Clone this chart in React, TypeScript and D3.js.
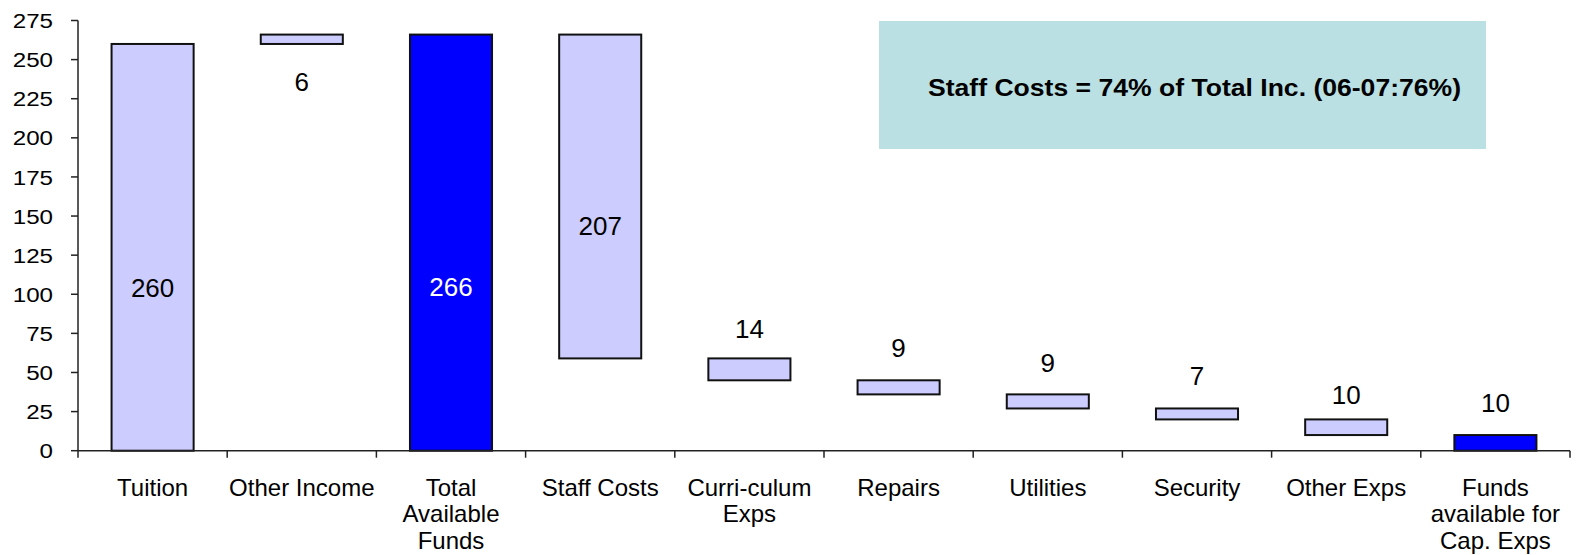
import React, { useEffect, useRef } from "react";
import * as d3 from "d3";

// categories (multi-line labels split with "\n")
const categories = [
  "Tuition",
  "Other Income",
  "Total\nAvailable\nFunds",
  "Staff Costs",
  "Curri-culum\nExps",
  "Repairs",
  "Utilities",
  "Security",
  "Other Exps",
  "Funds\navailable for\nCap. Exps",
];
// waterfall: floating base and visible value
const bases = [0, 260, 0, 59, 45, 36, 27, 20, 10, 0];
const values = [260, 6, 266, 207, 14, 9, 9, 7, 10, 10];
const isTotal = [false, false, true, false, false, false, false, false, false, true];
// where each data label sits (in data units)
const labelAt = [104, 236, 105, 144, 78, 66, 56, 48, 36, 31];
const yTicks = [0, 25, 50, 75, 100, 125, 150, 175, 200, 225, 250, 275];
const note = "Staff Costs = 74% of Total Inc. (06-07:76%)";

const W = 1578;
const H = 555;

function drawChart(svgEl: SVGSVGElement) {
  const svg = d3.select(svgEl);
  svg.selectAll("*").remove();
  const font = "'Liberation Sans', Arial, sans-serif";

  const x = d3
    .scaleBand<number>()
    .domain(d3.range(categories.length))
    .range([78, 1570])
    .paddingInner(0.45)
    .paddingOuter(0.225);
  const step = x.step();
  const x0 = 78;

  const y = d3.scaleLinear().domain([0, 275]).range([450.7, 20.5]);

  // annotation box
  svg
    .append("rect")
    .attr("x", 879)
    .attr("y", 21)
    .attr("width", 607)
    .attr("height", 128)
    .attr("fill", "#bbe0e3");
  svg
    .append("text")
    .attr("x", 928)
    .attr("y", 96)
    .attr("textLength", 533)
    .attr("lengthAdjust", "spacingAndGlyphs")
    .style("font-family", font)
    .style("font-size", "24px")
    .style("font-weight", "bold")
    .style("fill", "#000")
    .text(note);

  // y axis
  const yAxis = svg.append("g").attr("transform", `translate(${x0},0)`);
  yAxis
    .append("line")
    .attr("y1", y(275))
    .attr("y2", y(0))
    .attr("stroke", "#222")
    .attr("stroke-width", 1.5);
  yTicks.forEach((t) => {
    yAxis
      .append("line")
      .attr("x1", -7)
      .attr("x2", 0)
      .attr("y1", y(t))
      .attr("y2", y(t))
      .attr("stroke", "#222")
      .attr("stroke-width", 1.5);
    // tick labels are a bit wider than tall in the original
    yAxis
      .append("text")
      .attr("transform", `translate(-25,${y(t)}) scale(1.15,1)`)
      .attr("dy", "0.36em")
      .attr("text-anchor", "end")
      .style("font-family", font)
      .style("font-size", "21px")
      .style("fill", "#000")
      .text(t);
  });

  // bars
  categories.forEach((_, i) => {
    svg
      .append("rect")
      .attr("x", x(i)!)
      .attr("y", y(bases[i] + values[i]))
      .attr("width", x.bandwidth())
      .attr("height", y(bases[i]) - y(bases[i] + values[i]))
      .attr("fill", isTotal[i] ? "#0000ff" : "#ccccff")
      .attr("stroke", "#111")
      .attr("stroke-width", 2);
    svg
      .append("text")
      .attr("x", x(i)! + x.bandwidth() / 2)
      .attr("y", y(labelAt[i]))
      .attr("dy", "0.36em")
      .attr("text-anchor", "middle")
      .style("font-family", font)
      .style("font-size", "26px")
      .style("fill", i === 2 ? "#fff" : "#000")
      .text(values[i]);
  });

  // x axis
  const xAxis = svg.append("g").attr("transform", `translate(0,${y(0)})`);
  xAxis
    .append("line")
    .attr("x1", x0)
    .attr("x2", x0 + step * categories.length)
    .attr("stroke", "#222")
    .attr("stroke-width", 1.5);
  d3.range(categories.length + 1).forEach((k) => {
    xAxis
      .append("line")
      .attr("x1", x0 + k * step)
      .attr("x2", x0 + k * step)
      .attr("y1", 0)
      .attr("y2", 7)
      .attr("stroke", "#222")
      .attr("stroke-width", 1.5);
  });
  categories.forEach((c, i) => {
    const t = xAxis
      .append("text")
      .attr("text-anchor", "middle")
      .style("font-family", font)
      .style("font-size", "24px")
      .style("fill", "#000");
    c.split("\n").forEach((line, j) => {
      t.append("tspan")
        .attr("x", x(i)! + x.bandwidth() / 2)
        .attr("y", 45 + j * 26.5)
        .text(line);
    });
  });
}

export default function App() {
  const ref = useRef<SVGSVGElement>(null);
  useEffect(() => {
    if (ref.current) drawChart(ref.current);
  }, []);
  return (
    <div style={{ position: "absolute", left: 0, top: 0 }}>
      <svg ref={ref} width={W} height={H} style={{ display: "block", background: "#fff" }} />
    </div>
  );
}
